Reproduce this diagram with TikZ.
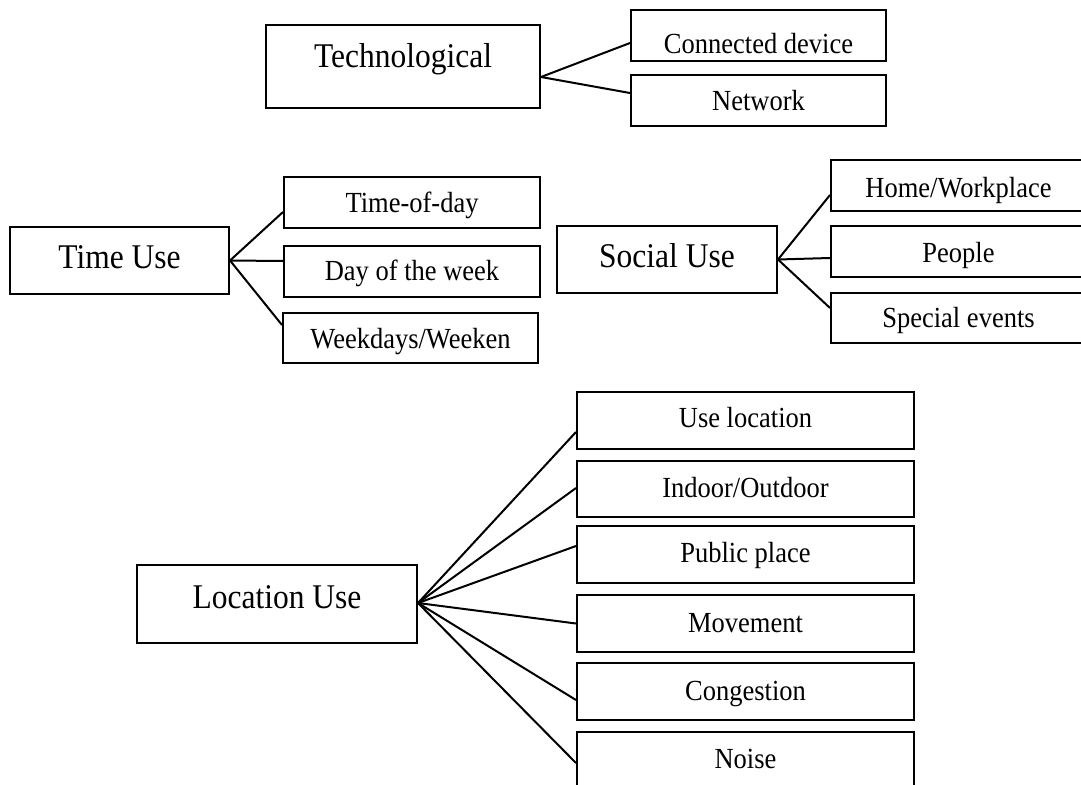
\documentclass[tikz,border=0pt]{standalone}
\usepackage{fontspec}
\setmainfont{Liberation Serif}
\newcommand\mkbox[8]{%
  \node[box, minimum width={(#4-#2)*1pt}, minimum height={(#5-#3)*1pt}] (#1) at ({(#2+#4)/2},{(#3+#5)/2}) {};
  \node[#7, anchor=base, inner sep=0pt] (#1-t) at ({(#2+#4)/2},#6) {\scalebox{1}[1.1]{#8}};
}
\begin{document}
\begin{tikzpicture}[x=1pt,y=-1pt,
  box/.style={draw, line width=2pt, inner sep=0pt, fill=white},
  conn/.style={line width=2pt},
  big/.style={font=\fontsize{31.5}{36}\selectfont},
  small/.style={font=\fontsize{26.5}{30}\selectfont}]
\clip (0,0) rectangle (1081,784);
\fill[white] (0,0) rectangle (1081,784);
% Technological
\mkbox{tech}{266}{25}{540}{108}{67}{big}{Technological}
\mkbox{cdev}{631}{10}{886}{61}{53}{small}{Connected device}
\mkbox{net}{631}{75}{886}{126}{110}{small}{Network}
% Time use
\mkbox{time}{10}{227}{229}{294}{268}{big}{Time Use}
\mkbox{tod}{284}{177}{540}{228}{212}{small}{Time-of-day}
\mkbox{dow}{284}{246}{540}{297}{280}{small}{Day of the week}
\mkbox{wkd}{283}{313}{538}{363}{348}{small}{Weekdays/Weeken}
% Social use
\mkbox{soc}{557}{226}{777}{293}{267}{big}{Social Use}
\mkbox{home}{831}{160}{1086}{211}{197}{small}{Home/Workplace}
\mkbox{ppl}{831}{226}{1086}{277}{262}{small}{People}
\mkbox{spec}{831}{293}{1086}{343}{327}{small}{Special events}
% Location use
\mkbox{loc}{137}{565}{417}{643}{608}{big}{Location Use}
\mkbox{uloc}{577}{392}{914}{449}{427}{small}{Use location}
\mkbox{inout}{577}{461}{914}{517}{497}{small}{Indoor/Outdoor}
\mkbox{pub}{577}{526}{914}{583}{562}{small}{Public place}
\mkbox{mov}{577}{595}{914}{652}{632}{small}{Movement}
\mkbox{cong}{577}{663}{914}{720}{700}{small}{Congestion}
\mkbox{noise}{577}{732}{914}{792}{768}{small}{Noise}
% connectors
\draw[conn] ([yshift=-10.5pt]tech.east) -- ([yshift=-7.5pt]cdev.west);
\draw[conn] ([yshift=-10.5pt]tech.east) -- ([yshift=7.5pt]net.west);
\draw[conn] (time.east) -- ([yshift=-9.5pt]tod.west);
\draw[conn] (time.east) -- ([yshift=10.5pt]dow.west);
\draw[conn] (time.east) -- ([yshift=13pt]wkd.west);
\draw[conn] (soc.east) -- ([yshift=-9.5pt]home.west);
\draw[conn] (soc.east) -- ([yshift=-6.5pt]ppl.west);
\draw[conn] (soc.east) -- ([yshift=10pt]spec.west);
\draw[conn] ([yshift=1pt]loc.east) -- ([yshift=-11.5pt]uloc.west);
\draw[conn] ([yshift=1pt]loc.east) -- ([yshift=1pt]inout.west);
\draw[conn] ([yshift=1pt]loc.east) -- ([yshift=8.5pt]pub.west);
\draw[conn] ([yshift=1pt]loc.east) -- ([yshift=0pt]mov.west);
\draw[conn] ([yshift=1pt]loc.east) -- ([yshift=-8.5pt]cong.west);
\draw[conn] ([yshift=1pt]loc.east) -- ([yshift=-1pt]noise.west);
\end{tikzpicture}
\end{document}
